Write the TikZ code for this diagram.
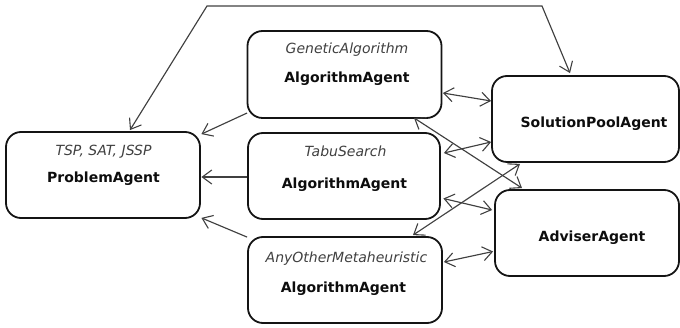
\documentclass[tikz,border=0pt]{standalone}
\usepackage{fontspec}
\setmainfont{DejaVu Sans}
\usetikzlibrary{arrows.meta,calc}

\begin{document}
\begin{tikzpicture}[x=1pt,y=-1pt,
  agent/.style={draw=black!92,line width=1.8pt,rounded corners=15pt,
    minimum width=#1,minimum height=86pt,inner sep=0pt},
  role/.style={inner sep=0pt,text=black!75,font=\itshape\fontsize{14}{16}\selectfont},
  title/.style={inner sep=0pt,text=black!95,font=\bfseries\fontsize{14}{16}\selectfont},
  barb/.tip={Straight Barb[length=9.5pt,width=14pt,line width=1.1pt]},
  onehead/.style={draw=black!75,line width=1.15pt,-barb},
  twohead/.style={draw=black!75,line width=1.15pt,barb-barb}]

\useasboundingbox (0,0) rectangle (680,328);

% agent boxes
\node[agent=194pt,minimum height=86pt] (prob) at (103,175) {};
\node[agent=194pt,minimum height=87pt] (gen)  at (344.5,74.5) {};
\node[agent=192pt] (tabu) at (344,176) {};
\node[agent=194pt] (any)  at (345,280) {};
\node[agent=187pt] (pool) at (585.5,119) {};
\node[agent=184pt] (adv)  at (587,233) {};

% box texts
\node[role]  (probr) at ($(prob.north)+(0.5,20.5)$) {TSP, SAT, JSSP};
\node[title] (probt) at ($(prob.north)+(0.5,47.5)$) {ProblemAgent};
\node[role]  (genr)  at ($(gen.north)+(2.5,19.5)$) {GeneticAlgorithm};
\node[title] (gent)  at ($(gen.north)+(2.5,48.5)$) {AlgorithmAgent};
\node[role]  (tabur) at ($(tabu.north)+(1.5,19.5)$) {TabuSearch};
\node[title] (tabut) at ($(tabu.north)+(0.5,52.5)$) {AlgorithmAgent};
\node[role]  (anyr)  at ($(any.north)+(1.5,22.5)$) {AnyOtherMetaheuristic};
\node[title] (anyt)  at ($(any.north)+(-1.5,52.5)$) {AlgorithmAgent};
\node[title] (poolt) at ($(pool.center)+(8.5,5)$) {SolutionPoolAgent};
\node[title] (advt)  at ($(adv.center)+(5,5)$) {AdviserAgent};

% bent link over the top
\coordinate (bendl) at (207,6);
\coordinate (bendr) at (542,6);
\draw[twohead] ($(prob.north)+(27,-1)$) -- (bendl) -- (bendr) -- ($(pool.north)+(-15.5,-2)$);

% algorithm agents report to the problem agent
\draw[onehead] ($(gen.west)+(0.5,38.5)$) -- ($(prob.north east)+(0.5,3)$);
\draw[onehead] ($(tabu.west)+(0,1)$) -- ($(prob.east)+(0.5,2)$);
\draw[onehead] ($(any.north west)+(0,1)$) -- ($(prob.south east)+(0.5,-1)$);

% exchanges with the pool and the adviser
\draw[twohead] ($(gen.east)+(0.5,18.5)$) -- ($(pool.west)+(0,-18)$);
\draw[twohead] ($(tabu.east)+(3,-23)$) -- ($(pool.west)+(0,23)$);
\draw[twohead] ($(tabu.east)+(2.5,22.5)$) -- ($(adv.west)+(-2,-23)$);
\draw[twohead] ($(any.east)+(1,-18)$) -- ($(adv.west)+(-1,18.5)$);
\draw[twohead] ($(gen.south)+(69.5,-1)$) -- ($(adv.north)+(-65,-1)$);
\draw[twohead] ($(any.north)+(68,-1)$) -- ($(pool.south)+(-65.5,1)$);
\end{tikzpicture}
\end{document}
